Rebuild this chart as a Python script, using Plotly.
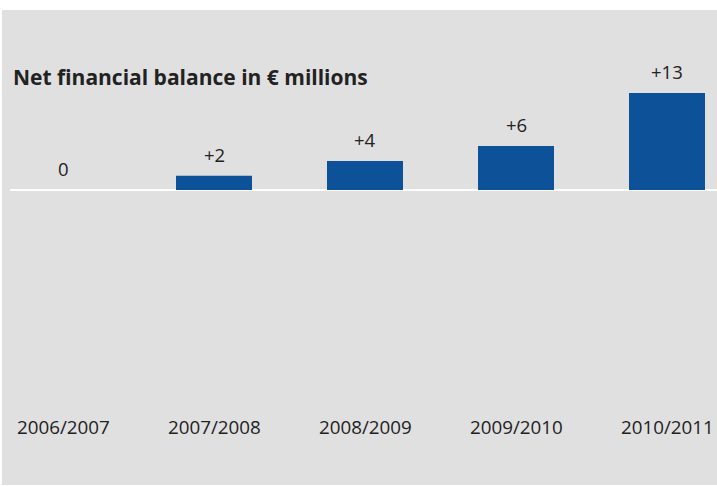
import plotly.graph_objects as go

categories = ["2006/2007", "2007/2008", "2008/2009", "2009/2010", "2010/2011"]
values = [0, 1.9, 3.9, 5.9, 13]
value_labels = ["0", "+2", "+4", "+6", "+13"]
title_text = "Net financial balance in € millions"

W, H = 717, 486
FONT = "Open Sans"
TXT = "#222222"

xs = list(range(len(categories)))
fig = go.Figure()
fig.add_trace(go.Bar(x=xs, y=values, width=76/151, marker=dict(color="#0d5299", line=dict(width=0)),
                     hoverinfo="skip"))

ann = []
for x, v, lab in zip(xs, values, value_labels):
    ann.append(dict(x=x, y=v, xref="x", yref="y", text=lab, showarrow=False,
                    yanchor="bottom", yshift=7, font=dict(family=FONT, size=18.5, color=TXT)))
for x, c in zip(xs, categories):
    ann.append(dict(x=x, y=1 - 427/H, xref="x", yref="paper", text=c, showarrow=False,
                    yanchor="middle", font=dict(family=FONT, size=18.8, color=TXT)))
ann.append(dict(x=11/W, y=1 - 77/H, xref="paper", yref="paper", text="<b>" + title_text + "</b>",
                showarrow=False, xanchor="left", yanchor="middle",
                font=dict(family=FONT, size=21, color=TXT)))

px_per_unit = 7.46
y_top = 190 / px_per_unit
y_bot = -(H - 190) / px_per_unit
x_left = -63 / 151
x_right = (W - 63) / 151

fig.update_layout(
    width=W, height=H, margin=dict(l=0, r=0, t=0, b=0),
    paper_bgcolor="white", plot_bgcolor="white",
    showlegend=False, annotations=ann,
    xaxis=dict(range=[x_left, x_right], visible=False, fixedrange=True),
    yaxis=dict(range=[y_bot, y_top], visible=False, fixedrange=True),
    shapes=[
        dict(type="rect", xref="paper", yref="paper", x0=2/W, x1=1, y0=1/H, y1=1 - 10/H,
             fillcolor="#e0e0e0", line=dict(width=0), layer="below"),
        dict(type="line", xref="paper", yref="y", x0=10/W, x1=1, y0=0, y1=0,
             line=dict(color="white", width=2), layer="below"),
    ],
)

fig.write_html("out.html")
